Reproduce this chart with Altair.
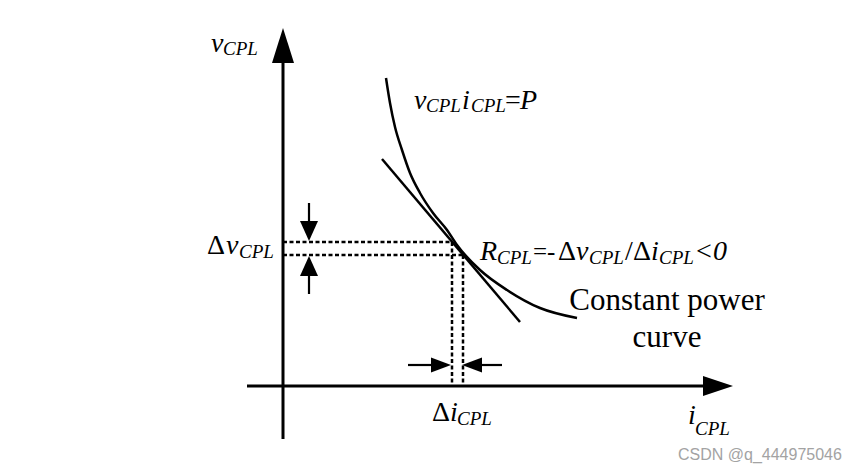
import altair as alt
import pandas as pd

# ---------------- data (diagram coordinates, pixel-like units) ----------------
curve_x = [386, 390, 395, 402, 410, 420, 433, 447, 457, 480, 507, 540, 577]
curve_y = [78, 103, 127, 150, 173, 193, 213, 230, 245, 270, 290, 308, 318]

tangent_x = [382, 520]
tangent_y = [159, 322]

# axes (x, y, x2, y2)
axis_segs = [(283, 439, 283, 55), (247, 386, 712, 386)]
# dashed projection lines
dash_segs = [(283, 242, 453, 242), (283, 255, 463, 255),
             (452, 242, 452, 386), (463, 255, 463, 386)]
# small arrow shafts
shaft_segs = [(309, 203, 309, 225), (309, 272, 309, 294),
              (408, 365, 436, 365), (477, 365, 502, 365)]

# arrowheads: (center x, center y, path, size)
heads = [
    (283, 45.5, "M0,-1L0.63,1L-0.63,1Z", 1225),   # v axis
    (718, 386, "M1,0L-1,-0.67L-1,0.67Z", 900),    # i axis
    (309, 231, "M0,1L0.9,-1L-0.9,-1Z", 400),      # dv down
    (309, 266, "M0,-1L0.9,1L-0.9,1Z", 400),       # dv up
    (441, 365, "M1,0L-1,-0.75L-1,0.75Z", 400),    # di right
    (472, 365, "M-1,0L1,-0.75L1,0.75Z", 400),     # di left
]

# text pieces: (x, baseline y, text, size, italic)
texts = [
    (211, 52, "v", 28, True), (223, 55, "CPL", 19, True),
    (414, 109, "v", 28, True), (426, 112, "CPL", 19, True),
    (462, 109, "i", 28, True), (471, 112, "CPL", 19, True),
    (505, 109, "=", 28, False), (520, 109, "P", 28, True),
    (207, 254, "Δ", 28, False), (226, 254, "v", 28, True), (239, 258, "CPL", 19, True),
    (480, 260, "R", 28, True), (497, 264, "CPL", 19, True),
    (533, 260, "=-", 25, False),
    (558, 260, "Δ", 28, False), (576, 260, "v", 28, True), (589, 264, "CPL", 19, True),
    (625, 260, "/", 28, False), (633, 260, "Δ", 28, False), (651, 260, "i", 28, True),
    (659, 264, "CPL", 19, True), (696, 260, "<", 28, False), (713, 260, "0", 28, True),
    (432, 421, "Δ", 28, False), (450, 421, "i", 28, True), (457, 425, "CPL", 19, True),
    (688, 424, "i", 28, True), (695, 435, "CPL", 19, True),
]
centered_texts = [(667, 310, "Constant power", 31), (667, 347, "curve", 31)]
watermark = (678, 460, "CSDN @q_444975046", 16)

SERIF = "Liberation Serif, Times New Roman, DejaVu Serif, serif"

# ---------------- chart ----------------
xs = alt.Scale(domain=[8, 842], nice=False, zero=False)
ys = alt.Scale(domain=[465, 8], nice=False, zero=False)
X = lambda f: alt.X(f, type="quantitative", scale=xs, axis=None)
Y = lambda f: alt.Y(f, type="quantitative", scale=ys, axis=None)

def segs_df(segs):
    return pd.DataFrame(segs, columns=["x", "y", "x2", "y2"])

layers = []

layers.append(alt.Chart(segs_df(axis_segs)).mark_rule(color="black", strokeWidth=3).encode(
    x=X("x"), y=Y("y"), x2="x2", y2="y2"))
layers.append(alt.Chart(segs_df(dash_segs)).mark_rule(color="black", strokeWidth=2.5,
    strokeDash=[4, 2.5]).encode(x=X("x"), y=Y("y"), x2="x2", y2="y2"))
layers.append(alt.Chart(segs_df(shaft_segs)).mark_rule(color="black", strokeWidth=2.2).encode(
    x=X("x"), y=Y("y"), x2="x2", y2="y2"))

curve_df = pd.DataFrame({"x": curve_x, "y": curve_y, "o": range(len(curve_x))})
layers.append(alt.Chart(curve_df).mark_line(color="black", strokeWidth=2.5,
    interpolate="monotone").encode(x=X("x"), y=Y("y"), order="o:Q"))
tan_df = pd.DataFrame({"x": tangent_x, "y": tangent_y})
layers.append(alt.Chart(tan_df).mark_line(color="black", strokeWidth=2.5).encode(
    x=X("x"), y=Y("y")))

for hx, hy, path, size in heads:
    layers.append(alt.Chart(pd.DataFrame({"x": [hx], "y": [hy]})).mark_point(
        shape=path, size=size, filled=True, fill="black", strokeWidth=0, opacity=1).encode(
        x=X("x"), y=Y("y")))

tdf = pd.DataFrame(texts, columns=["x", "y", "t", "s", "it"])
for it in (True, False):
    sub = tdf[tdf["it"] == it]
    layers.append(alt.Chart(sub).mark_text(font=SERIF,
        fontStyle="italic" if it else "normal", align="left", baseline="alphabetic",
        color="black").encode(x=X("x"), y=Y("y"), text="t:N",
        size=alt.Size("s:Q", scale=None)))

cdf = pd.DataFrame(centered_texts, columns=["x", "y", "t", "s"])
layers.append(alt.Chart(cdf).mark_text(font=SERIF, align="center",
    baseline="alphabetic", color="black").encode(x=X("x"), y=Y("y"), text="t:N",
    size=alt.Size("s:Q", scale=None)))

wdf = pd.DataFrame([watermark], columns=["x", "y", "t", "s"])
layers.append(alt.Chart(wdf).mark_text(font="Liberation Sans, Arial, sans-serif", align="left",
    baseline="alphabetic", color="#a3a3a3").encode(x=X("x"), y=Y("y"), text="t:N",
    size=alt.Size("s:Q", scale=None)))

chart = alt.layer(*layers).properties(
    width=834, height=457, padding=0, autosize=alt.AutoSizeParams(type="none")
).configure_view(stroke=None)

chart.save("out.html", embed_options={"renderer": "svg", "actions": False})
